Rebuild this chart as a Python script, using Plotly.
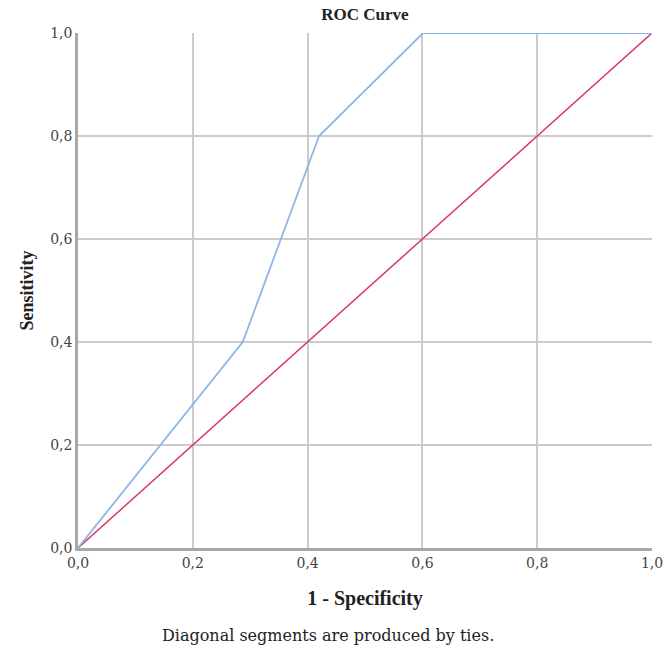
import plotly.graph_objects as go

# ROC curve data (1 - specificity, sensitivity)
roc_fpr = [0.0, 0.287, 0.42, 0.601, 1.0]
roc_tpr = [0.0, 0.40, 0.80, 1.0, 1.0]
ref_x = [0.0, 1.0]
ref_y = [0.0, 1.0]
tick_vals = [0.0, 0.2, 0.4, 0.6, 0.8, 1.0]

SERIF = "Liberation Serif, Times New Roman, serif"
WIDE = "DejaVu Serif, serif"

fig = go.Figure()
fig.add_trace(go.Scatter(x=ref_x, y=ref_y, mode="lines",
                         line=dict(color="#d9376a", width=1.5), showlegend=False))
fig.add_trace(go.Scatter(x=roc_fpr, y=roc_tpr, mode="lines",
                         line=dict(color="#8db6e6", width=1.8), showlegend=False))

axis_common = dict(range=[0, 1], tickvals=tick_vals, tickformat=".1f",
                   showgrid=True, gridcolor="#cccccc", gridwidth=1.5,
                   showline=True, linecolor="#a8a8a8", linewidth=2.5,
                   zeroline=False, ticks="", ticklen=0, automargin=False,
                   tickfont=dict(family=WIDE, size=14, color="#444444"))

fig.update_layout(
    width=666, height=654,
    margin=dict(l=78, r=14, t=33, b=106),
    paper_bgcolor="white", plot_bgcolor="white",
    separators=",.",
    font=dict(family=SERIF, color="#333333"),
    title=dict(text="<b>ROC Curve</b>", x=0.548, xanchor="center", y=0.978, yanchor="middle",
               font=dict(family=SERIF, size=17, color="#222222")),
    xaxis=dict(**axis_common,
               title=dict(text="<b>1 - Specificity</b>", standoff=22,
                          font=dict(family=SERIF, size=20, color="#222222"))),
    yaxis=dict(**axis_common,
               title=dict(text="<b>Sensitivity</b>", standoff=12,
                          font=dict(family=SERIF, size=18, color="#222222"))),
)

fig.add_annotation(text="Diagonal segments are produced by ties.",
                   xref="paper", yref="paper", x=0.435, y=-0.17,
                   xanchor="center", yanchor="middle", showarrow=False,
                   font=dict(family=WIDE, size=16, color="#222222"))

fig.write_html("out.html")
